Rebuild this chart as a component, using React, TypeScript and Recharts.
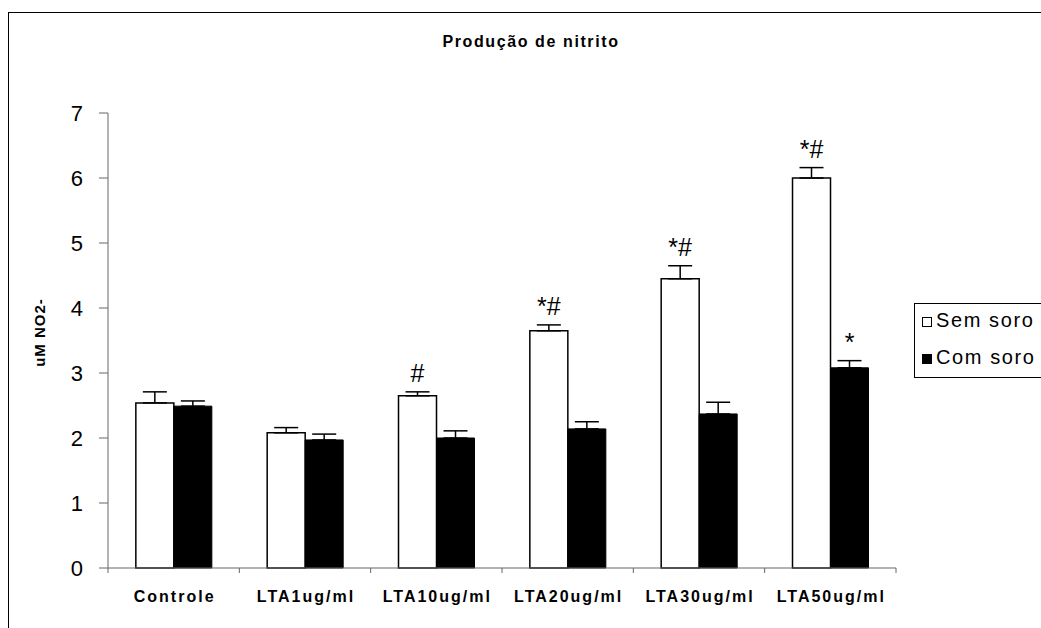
import { BarChart, Bar, XAxis, YAxis, ErrorBar, LabelList } from "recharts";

const categories = ["Controle", "LTA1ug/ml", "LTA10ug/ml", "LTA20ug/ml", "LTA30ug/ml", "LTA50ug/ml"];
const semSoro = [2.54, 2.08, 2.65, 3.65, 4.45, 6.0];
const semSoroErr = [0.17, 0.08, 0.06, 0.09, 0.2, 0.16];
const comSoro = [2.49, 1.97, 2.0, 2.14, 2.37, 3.08];
const comSoroErr = [0.08, 0.09, 0.11, 0.11, 0.18, 0.11];
const semSoroNotes = ["", "", "#", "*#", "*#", "*#"];
const comSoroNotes = ["", "", "", "", "", "*"];
const yTicks = [0, 1, 2, 3, 4, 5, 6, 7];
const seriesNames = ["Sem soro", "Com soro"];

const FONT = "'Liberation Sans', Arial, sans-serif";
const AXIS = "#666";

const data = categories.map((name, i) => ({
  name,
  sem: semSoro[i],
  semErr: [0, semSoroErr[i]],
  semNote: semSoroNotes[i],
  com: comSoro[i],
  comErr: [0, comSoroErr[i]],
  comNote: comSoroNotes[i],
}));

// category ticks sit between the groups, like the old excel chart
const XTick = (props: any) => {
  const { x, y, payload, index, width, visibleTicksCount } = props;
  const count = visibleTicksCount ?? categories.length;
  const half = payload?.offset ?? width / count / 2;
  return (
    <g>
      <line x1={x - half} x2={x - half} y1={y} y2={y + 5} stroke={AXIS} />
      {index === count - 1 && <line x1={x + half} x2={x + half} y1={y} y2={y + 5} stroke={AXIS} />}
      <text
        x={x + 1}
        y={y + 34}
        textAnchor="middle"
        fontFamily={FONT}
        fontWeight="bold"
        fontSize={16}
        letterSpacing={2}
        fill="#000"
      >
        {payload.value}
      </text>
    </g>
  );
};

const makeNote = (values: number[], errs: number[]) => (props: any) => {
  const { x, y, width, height, index, value } = props;
  if (!value) return null;
  const errPx = (height / values[index]) * errs[index];
  return (
    <text
      x={x + width / 2}
      y={y - errPx - 10}
      textAnchor="middle"
      fontFamily={FONT}
      fontSize={25}
      fill="#000"
    >
      {value}
    </text>
  );
};

const YLabel = (props: any) => {
  const vb = props.viewBox;
  const cx = vb.x - 9;
  const cy = vb.y + vb.height / 2 - 8;
  return (
    <text
      x={cx}
      y={cy}
      transform={`rotate(-90, ${cx}, ${cy})`}
      textAnchor="middle"
      dominantBaseline="central"
      fontFamily={FONT}
      fontWeight="bold"
      fontSize={15}
      letterSpacing={1}
      fill="#000"
    >
      uM NO2-
    </text>
  );
};

export default function App() {
  return (
    <div
      style={{
        position: "absolute",
        left: 0,
        top: 0,
        width: 1041,
        height: 628,
        overflow: "hidden",
        background: "#fff",
        fontFamily: FONT,
      }}
    >
      <div
        style={{
          position: "absolute",
          left: 8,
          top: 12,
          width: 1100,
          height: 700,
          border: "1px solid #000",
        }}
      />
      <div
        style={{
          position: "absolute",
          left: 431,
          top: 33,
          width: 200,
          textAlign: "center",
          fontSize: 16,
          lineHeight: "18px",
          fontWeight: "bold",
          letterSpacing: 1.6,
          whiteSpace: "nowrap",
        }}
      >
        Produção de nitrito
      </div>

      <div style={{ position: "absolute", left: 0, top: 0 }}>
        <BarChart
          width={1041}
          height={628}
          data={data}
          margin={{ top: 113, right: 145, bottom: 20, left: 48 }}
          barCategoryGap="21.2%"
          barGap={0}
        >
          <XAxis
            dataKey="name"
            height={40}
            interval={0}
            axisLine={{ stroke: AXIS }}
            tickLine={false}
            tickSize={0}
            tickMargin={0}
            tick={<XTick />}
          />
          <YAxis
            width={60}
            domain={[0, 7]}
            ticks={yTicks}
            interval={0}
            axisLine={{ stroke: AXIS }}
            tickLine={{ stroke: AXIS }}
            tickSize={9}
            tickMargin={16}
            tick={{ fill: "#000", fontSize: 22, fontFamily: FONT }}
            label={YLabel}
          />
          <Bar dataKey="sem" name={seriesNames[0]} fill="#fff" stroke="#000" strokeWidth={1.5} isAnimationActive={false}>
            <ErrorBar dataKey="semErr" width={12} stroke="#000" strokeWidth={1.5} direction="y" />
            <LabelList dataKey="semNote" content={makeNote(semSoro, semSoroErr)} />
          </Bar>
          <Bar dataKey="com" name={seriesNames[1]} fill="#000" stroke="#000" strokeWidth={1} isAnimationActive={false}>
            <ErrorBar dataKey="comErr" width={12} stroke="#000" strokeWidth={1.5} direction="y" />
            <LabelList dataKey="comNote" content={makeNote(comSoro, comSoroErr)} />
          </Bar>
        </BarChart>
      </div>

      <div
        style={{
          position: "absolute",
          left: 914,
          top: 303,
          width: 160,
          height: 73,
          border: "1px solid #000",
          background: "#fff",
        }}
      />
      {seriesNames.map((name, i) => (
        <div
          key={name}
          style={{ position: "absolute", left: 922, top: i === 0 ? 309 : 346, height: 22, display: "flex", alignItems: "center" }}
        >
          <span
            style={{
              display: "inline-block",
              width: 8,
              height: 8,
              border: "1px solid #000",
              background: i === 0 ? "#fff" : "#000",
              marginRight: 4,
              marginTop: 3,
            }}
          />
          <span style={{ fontSize: 20, lineHeight: "22px", letterSpacing: 1.6, whiteSpace: "nowrap" }}>{name}</span>
        </div>
      ))}
    </div>
  );
}
